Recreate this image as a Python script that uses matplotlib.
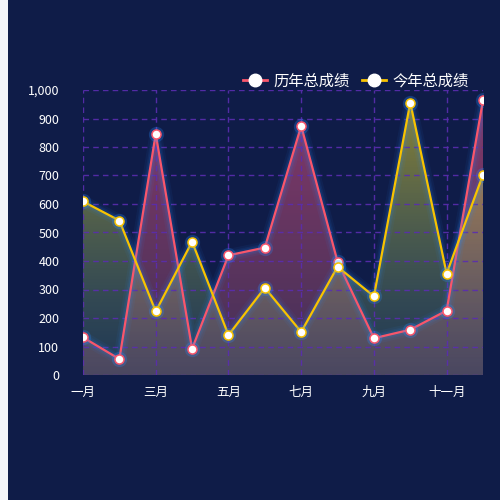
import numpy as np
import matplotlib
matplotlib.use('Agg')
import matplotlib.pyplot as plt
from matplotlib.patches import Polygon, Rectangle
from matplotlib.lines import Line2D
from matplotlib.ticker import FuncFormatter

plt.rcParams['font.family'] = ['Noto Sans CJK SC', 'DejaVu Sans']

# data
months = ['一月', '二月', '三月', '四月', '五月', '六月',
          '七月', '八月', '九月', '十月', '十一月', '十二月']
history = [132, 56, 846, 92, 420, 447, 874, 398, 129, 159, 226, 965]
this_year = [609, 542, 223, 468, 140, 306, 151, 380, 276, 956, 356, 703]

bg = '#0f1c48'
red = '#f9566b'
yellow = '#f8c300'
grid_c = '#5a2db0'

fig = plt.figure(figsize=(5, 5), dpi=100, facecolor=bg)
fig.patches.append(Rectangle((0, 0), 8 / 500, 1, transform=fig.transFigure,
                             facecolor='#f3f4f8', edgecolor='none', zorder=0))
ax = fig.add_axes([83 / 500, 0.25, 400 / 500, 0.57])
ax.set_facecolor(bg)
for s in ax.spines.values():
    s.set_visible(False)

x = np.arange(len(months))
ax.set_xlim(0, len(months) - 1)
ax.set_ylim(0, 1000)


def grad_fill(vals, top, bottom, z):
    vals = np.array(vals, dtype=float)
    top_v = vals.max()
    verts = [(0, 0)] + list(zip(x, vals)) + [(x[-1], 0)]
    poly = Polygon(verts, closed=True, facecolor='none', edgecolor='none')
    ax.add_patch(poly)
    t = np.linspace(0, 1, 256)[:, None]
    top = np.array(top)
    bottom = np.array(bottom)
    img = bottom + (top - bottom) * t
    img = img[:, None, :].repeat(2, axis=1)
    im = ax.imshow(img, origin='lower', extent=(0, x[-1], 0, top_v),
                   aspect='auto', interpolation='bilinear', zorder=z)
    im.set_clip_path(poly)


grad_fill(history, (1.0, 0.33, 0.55, 0.50), (0.80, 0.40, 0.50, 0.28), 2)
grad_fill(this_year, (0.95, 0.85, 0.15, 0.55), (0.42, 0.70, 0.55, 0.18), 3)

# grid
for v in range(0, 1001, 100):
    ax.axhline(v, color=grid_c, lw=1, ls=(0, (4, 3)), alpha=0.9, zorder=4)
for i in range(0, len(months) - 1, 2):
    ax.axvline(i, color=grid_c, lw=1, ls=(0, (4, 3)), alpha=0.9, zorder=4)

# lines with a blue glow
for vals, c, z in [(history, red, 6), (this_year, yellow, 8)]:
    for lw, a in [(9, 0.06), (6, 0.08), (4, 0.1)]:
        ax.plot(x, vals, color='#2a8cff', lw=lw, alpha=a, zorder=z - 1,
                solid_capstyle='round')
    ax.plot(x, vals, color=c, lw=1.6, zorder=z)
    ax.plot(x, vals, ls='none', marker='o', ms=11, color='#2a8cff',
            alpha=0.25, markeredgewidth=0, zorder=z)
    ax.plot(x, vals, ls='none', marker='o', ms=6.5, markerfacecolor='white',
            markeredgecolor=c, markeredgewidth=1.1, zorder=z + 0.5)

ax.set_xticks(x[::2])
ax.set_xticklabels(months[::2])
ax.set_yticks(range(0, 1001, 100))
ax.yaxis.set_major_formatter(FuncFormatter(lambda v, p: f'{int(v):,}'))
ax.tick_params(axis='both', length=0, colors='white')
ax.tick_params(axis='y', labelsize=9, pad=17)
ax.tick_params(axis='x', labelsize=9, pad=8)

handles = [Line2D([0], [0], color=red, lw=2, marker='o', ms=9,
                  markerfacecolor='white', markeredgecolor='white'),
           Line2D([0], [0], color=yellow, lw=2, marker='o', ms=9,
                  markerfacecolor='white', markeredgecolor='white')]
fig.legend(handles, ['历年总成绩', '今年总成绩'], loc='center right',
           bbox_to_anchor=(0.965, 0.838), ncol=2, frameon=False,
           labelcolor='white', fontsize=11, handlelength=1.6,
           handletextpad=0.4, columnspacing=0.8)

fig.savefig('out.png', dpi=100, facecolor=bg)
